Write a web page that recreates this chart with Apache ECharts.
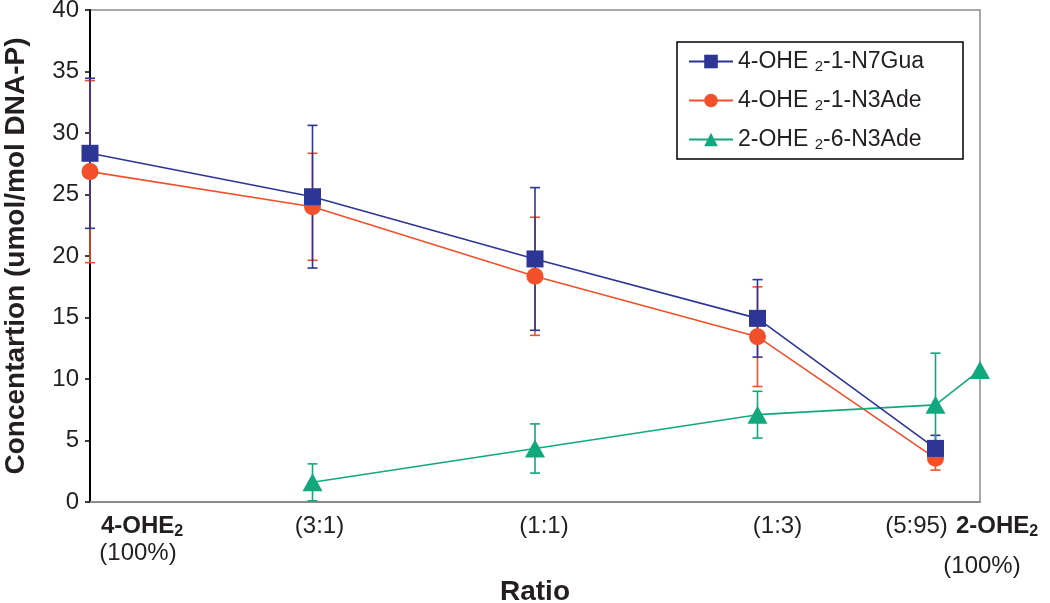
<!DOCTYPE html>
<html>
<head>
<meta charset="utf-8">
<script src="https://cdn.jsdelivr.net/npm/echarts@6/dist/echarts.min.js"></script>
<style>
  html, body { margin: 0; padding: 0; background: #ffffff; }
  #chart { width: 1050px; height: 603px; }
</style>
</head>
<body>
<div id="chart"></div>
<script>
// ---------- data ----------
const xPositions = [0, 1, 2, 3, 3.8, 4];
const xTickLabels = ['4-OHE₂\n(100%)', '(3:1)', '(1:1)', '(1:3)', '(5:95)', '2-OHE₂\n(100%)'];
const yTicks = [0, 5, 10, 15, 20, 25, 30, 35, 40];

const seriesNames = ['4-OHE₂-1-N7Gua', '4-OHE₂-1-N3Ade', '2-OHE₂-6-N3Ade'];

const guaX = [0, 1, 2, 3, 3.8];
const guaMean = [28.35, 24.82, 19.76, 14.93, 4.36];
const guaErr = [6.1, 5.8, 5.8, 3.15, 1.06];

const adeX = [0, 1, 2, 3, 3.8];
const adeMean = [26.86, 24.0, 18.35, 13.44, 3.55];
const adeErr = [7.4, 4.35, 4.8, 4.05, 0.95];

const ade2X = [1, 2, 3, 3.8, 4];
const ade2Mean = [1.6, 4.35, 7.1, 7.9, 10.73];
const ade2Err = [1.5, 2.0, 1.9, 4.2, 0];

// ---------- styling ----------
const FONT = '"Liberation Sans", Arial, Helvetica, sans-serif';
const TXT = '#231f20';
const colors = ['#2d3595', '#f1502a', '#12a87e'];
const symbols = ['rect', 'circle', 'triangle'];
const symbolSizes = [17, 17, [20, 18]];

// horizontal shift of each tick-label line (layout only)
const labelShift = [[52, 48], [7], [9], [20], [-19], [17, 2]];
const labelLineHeights = [[28, 26], [28], [28], [28], [28], [28, 52]];

const xRich = {};
function xLabelFormatter(val) {
  const i = xPositions.findIndex(p => Math.abs(p - val) < 1e-6);
  if (i < 0) return '';
  const lines = xTickLabels[i].split('\n');
  return lines.map((ln, j) => {
    const key = 'L' + i + '_' + j;
    const s = labelShift[i][j] || 0;
    const lh = labelLineHeights[i][j];
    const bold = ln.indexOf('₂') >= 0;
    xRich[key] = {
      fontFamily: FONT, fontSize: 24, color: TXT, lineHeight: lh,
      fontWeight: bold ? 'bold' : 'normal', verticalAlign: 'middle',
      padding: s >= 0 ? [0, 0, 0, 2 * s] : [0, -2 * s, 0, 0]
    };
    if (bold) {
      const parts = ln.split('₂');
      xRich['sub' + i] = {
        fontFamily: FONT, fontSize: 16, fontWeight: 'bold', color: TXT,
        lineHeight: lh, verticalAlign: 'middle', padding: [12, 0, 0, 0]
      };
      return '{' + key + '|' + parts[0] + '}{sub' + i + '|2}';
    }
    return '{' + key + '|' + ln + '}';
  }).join('\n');
}
xPositions.forEach(v => xLabelFormatter(v));

// labels split over two axes so that the close pair at the right end do not hide each other
const mainLabelValues = xPositions.filter((v, i) => i !== 4);
const extraLabelValues = [xPositions[4]];

function legendFormatter(name) {
  const parts = name.split('₂');
  return '{t|' + parts[0] + ' }{s|2}{t|' + parts[1] + '}';
}

function errData(xs, means, errs) {
  return xs.map((x, k) => [x, means[k] - errs[k], means[k] + errs[k]]);
}
function errRender(color) {
  return function (params, api) {
    const x = api.value(0), lo = api.value(1), hi = api.value(2);
    if (hi - lo <= 0) return null;
    const p1 = api.coord([x, lo]);
    const p2 = api.coord([x, hi]);
    const w = 5;
    const st = { stroke: color, lineWidth: 1.6 };
    return {
      type: 'group',
      children: [
        { type: 'line', shape: { x1: p1[0], y1: p1[1], x2: p2[0], y2: p2[1] }, style: st },
        { type: 'line', shape: { x1: p1[0] - w, y1: p1[1], x2: p1[0] + w, y2: p1[1] }, style: st },
        { type: 'line', shape: { x1: p2[0] - w, y1: p2[1], x2: p2[0] + w, y2: p2[1] }, style: st }
      ]
    };
  };
}

const groups = [
  { x: guaX, m: guaMean, e: guaErr },
  { x: adeX, m: adeMean, e: adeErr },
  { x: ade2X, m: ade2Mean, e: ade2Err }
];

const series = [];
[1, 0, 2].forEach(k => {
  const g = groups[k];
  series.push({
    name: seriesNames[k] + '_err',
    type: 'custom',
    renderItem: errRender(colors[k]),
    data: errData(g.x, g.m, g.e),
    clip: false,
    silent: true,
    z: 2
  });
});
[1, 0, 2].forEach(k => {
  const g = groups[k];
  series.push({
    name: seriesNames[k],
    type: 'line',
    data: g.x.map((x, j) => [x, g.m[j]]),
    symbol: symbols[k],
    symbolSize: symbolSizes[k],
    showAllSymbol: true,
    clip: false,
    color: colors[k],
    lineStyle: { color: colors[k], width: 1.6 },
    itemStyle: { color: colors[k], opacity: 1 },
    z: 3 + (k === 0 ? 1 : 0)
  });
});

const chart = echarts.init(document.getElementById('chart'), null, { renderer: 'canvas' });
chart.setOption({
  animation: false,
  backgroundColor: '#ffffff',
  textStyle: { fontFamily: FONT, color: TXT },
  grid: {
    left: 90, right: 70, top: 10, bottom: 101,
    outerBoundsMode: 'none',
    containLabel: false,
    show: true, borderColor: '#8c8c8c', borderWidth: 1.5, backgroundColor: 'transparent'
  },
  legend: {
    data: seriesNames,
    orient: 'vertical',
    left: 677, top: 42,
    padding: [7, 39, 7, 11],
    itemGap: 14,
    itemWidth: 44,
    itemHeight: 17,
    backgroundColor: '#ffffff',
    borderColor: '#000000',
    borderWidth: 1.5,
    formatter: legendFormatter,
    textStyle: {
      fontFamily: FONT, color: TXT, fontSize: 23,
      rich: {
        t: { fontFamily: FONT, color: TXT, fontSize: 23, lineHeight: 24 },
        s: { fontFamily: FONT, color: TXT, fontSize: 15, lineHeight: 24, padding: [10, 0, 0, 0] }
      }
    }
  },
  xAxis: [{
    type: 'value',
    min: 0, max: 4,
    name: 'Ratio',
    nameLocation: 'middle',
    nameGap: 76,
    nameMoveOverlap: false,
    nameTextStyle: { fontFamily: FONT, fontSize: 28, fontWeight: 'bold', color: TXT },
    axisLine: { show: true, lineStyle: { color: '#8c8c8c', width: 2 } },
    axisTick: { show: false },
    splitLine: { show: false },
    axisLabel: {
      customValues: mainLabelValues,
      showMinLabel: true,
      showMaxLabel: true,
      hideOverlap: false,
      margin: 10,
      formatter: xLabelFormatter,
      rich: xRich,
      color: TXT,
      fontFamily: FONT
    }
  }, {
    type: 'value',
    min: 0, max: 4,
    position: 'bottom',
    axisLine: { show: false },
    axisTick: { show: false },
    splitLine: { show: false },
    axisLabel: {
      customValues: extraLabelValues,
      showMinLabel: true,
      showMaxLabel: true,
      hideOverlap: false,
      margin: 10,
      formatter: xLabelFormatter,
      rich: xRich,
      color: TXT,
      fontFamily: FONT
    }
  }],
  yAxis: {
    type: 'value',
    min: yTicks[0], max: yTicks[yTicks.length - 1], interval: 5,
    name: 'Concentartion (umol/mol DNA-P)',
    nameLocation: 'middle',
    nameGap: 60,
    nameMoveOverlap: false,
    nameTextStyle: { fontFamily: FONT, fontSize: 28, fontWeight: 'bold', color: TXT },
    axisLine: { show: true, lineStyle: { color: '#000000', width: 2 } },
    axisTick: { show: true, inside: false, length: 5, lineStyle: { color: '#000000', width: 1.5 } },
    splitLine: { show: false },
    axisLabel: { fontFamily: FONT, fontSize: 24, color: TXT, margin: 11 }
  },
  series: series
});
</script>
</body>
</html>
